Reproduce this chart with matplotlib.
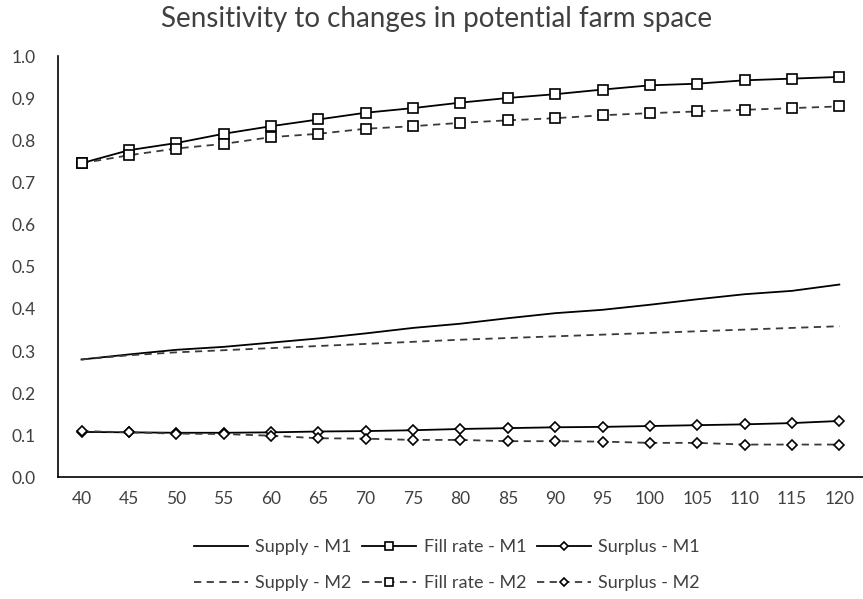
import matplotlib
matplotlib.use("Agg")
import matplotlib.pyplot as plt

plt.rcParams["font.family"] = ["Lato", "DejaVu Sans"]

# ---------------------------------------------------------------------------
# Data
# ---------------------------------------------------------------------------
farm_space = [40, 45, 50, 55, 60, 65, 70, 75, 80, 85, 90, 95, 100, 105, 110, 115, 120]

supply_m1 = [0.280, 0.292, 0.303, 0.310, 0.320, 0.330, 0.342, 0.355, 0.365,
             0.378, 0.390, 0.398, 0.410, 0.423, 0.435, 0.443, 0.458]
fill_rate_m1 = [0.746, 0.777, 0.794, 0.816, 0.834, 0.850, 0.866, 0.877, 0.890,
                0.901, 0.910, 0.921, 0.931, 0.935, 0.943, 0.947, 0.951]
surplus_m1 = [0.108, 0.107, 0.106, 0.106, 0.107, 0.109, 0.110, 0.112, 0.115,
              0.117, 0.119, 0.120, 0.122, 0.124, 0.126, 0.129, 0.134]

supply_m2 = [0.280, 0.290, 0.297, 0.302, 0.307, 0.312, 0.317, 0.322, 0.327,
             0.331, 0.335, 0.339, 0.343, 0.347, 0.351, 0.355, 0.359]
fill_rate_m2 = [0.746, 0.765, 0.781, 0.792, 0.808, 0.816, 0.828, 0.834, 0.842,
                0.848, 0.853, 0.860, 0.865, 0.869, 0.873, 0.877, 0.881]
surplus_m2 = [0.110, 0.107, 0.104, 0.103, 0.099, 0.093, 0.092, 0.089, 0.089,
              0.086, 0.086, 0.085, 0.082, 0.082, 0.078, 0.078, 0.078]

y_ticks = [0.0, 0.1, 0.2, 0.3, 0.4, 0.5, 0.6, 0.7, 0.8, 0.9, 1.0]

# ---------------------------------------------------------------------------
# Plot
# ---------------------------------------------------------------------------
fig = plt.figure(figsize=(8.63, 5.99), dpi=100)
ax = fig.add_axes([0.067, 0.203, 0.933, 0.703])

solid = dict(color="black", linewidth=1.3)
dashed = dict(color="#3a3a3a", linewidth=1.3, linestyle=(0, (4, 3)))
square = dict(marker="s", markersize=7, markerfacecolor="white",
              markeredgecolor="black", markeredgewidth=1.2)
diamond = dict(marker="D", markersize=5, markerfacecolor="white",
               markeredgecolor="black", markeredgewidth=1.2)

# plotted in this order so the 3-column legend reads row by row (M1 / M2)
ax.plot(farm_space, supply_m1, label="Supply - M1", **solid)
ax.plot(farm_space, supply_m2, label="Supply - M2", **dashed)
ax.plot(farm_space, fill_rate_m1, label="Fill rate - M1", **solid, **square)
ax.plot(farm_space, fill_rate_m2, label="Fill rate - M2", **dashed, **square)
ax.plot(farm_space, surplus_m1, label="Surplus - M1", **solid, **diamond)
ax.plot(farm_space, surplus_m2, label="Surplus - M2", **dashed, **diamond)

ax.set_xlim(37.5, 122.5)
ax.set_ylim(0.0, 1.0)
ax.set_xticks(farm_space)
ax.set_yticks(y_ticks)
ax.set_yticklabels([f"{v:.1f}" for v in y_ticks])
ax.tick_params(length=0, labelsize=12.5, colors="#404040", pad=10)
ax.tick_params(axis="y", pad=16)

for side in ("top", "right"):
    ax.spines[side].set_visible(False)
for side in ("left", "bottom"):
    ax.spines[side].set_color("black")
    ax.spines[side].set_linewidth(1.2)

fig.suptitle("Sensitivity to changes in potential farm space",
             x=0.506, y=0.99, fontsize=20, color="#404040")

leg = ax.legend(ncol=3, loc="upper center", bbox_to_anchor=(0.483, -0.108),
                frameon=False, fontsize=13, handlelength=3.0, columnspacing=0.6,
                handletextpad=0.4, labelspacing=1.1, labelcolor="#404040",
                markerscale=0.8)

fig.savefig("out.png", dpi=100)
